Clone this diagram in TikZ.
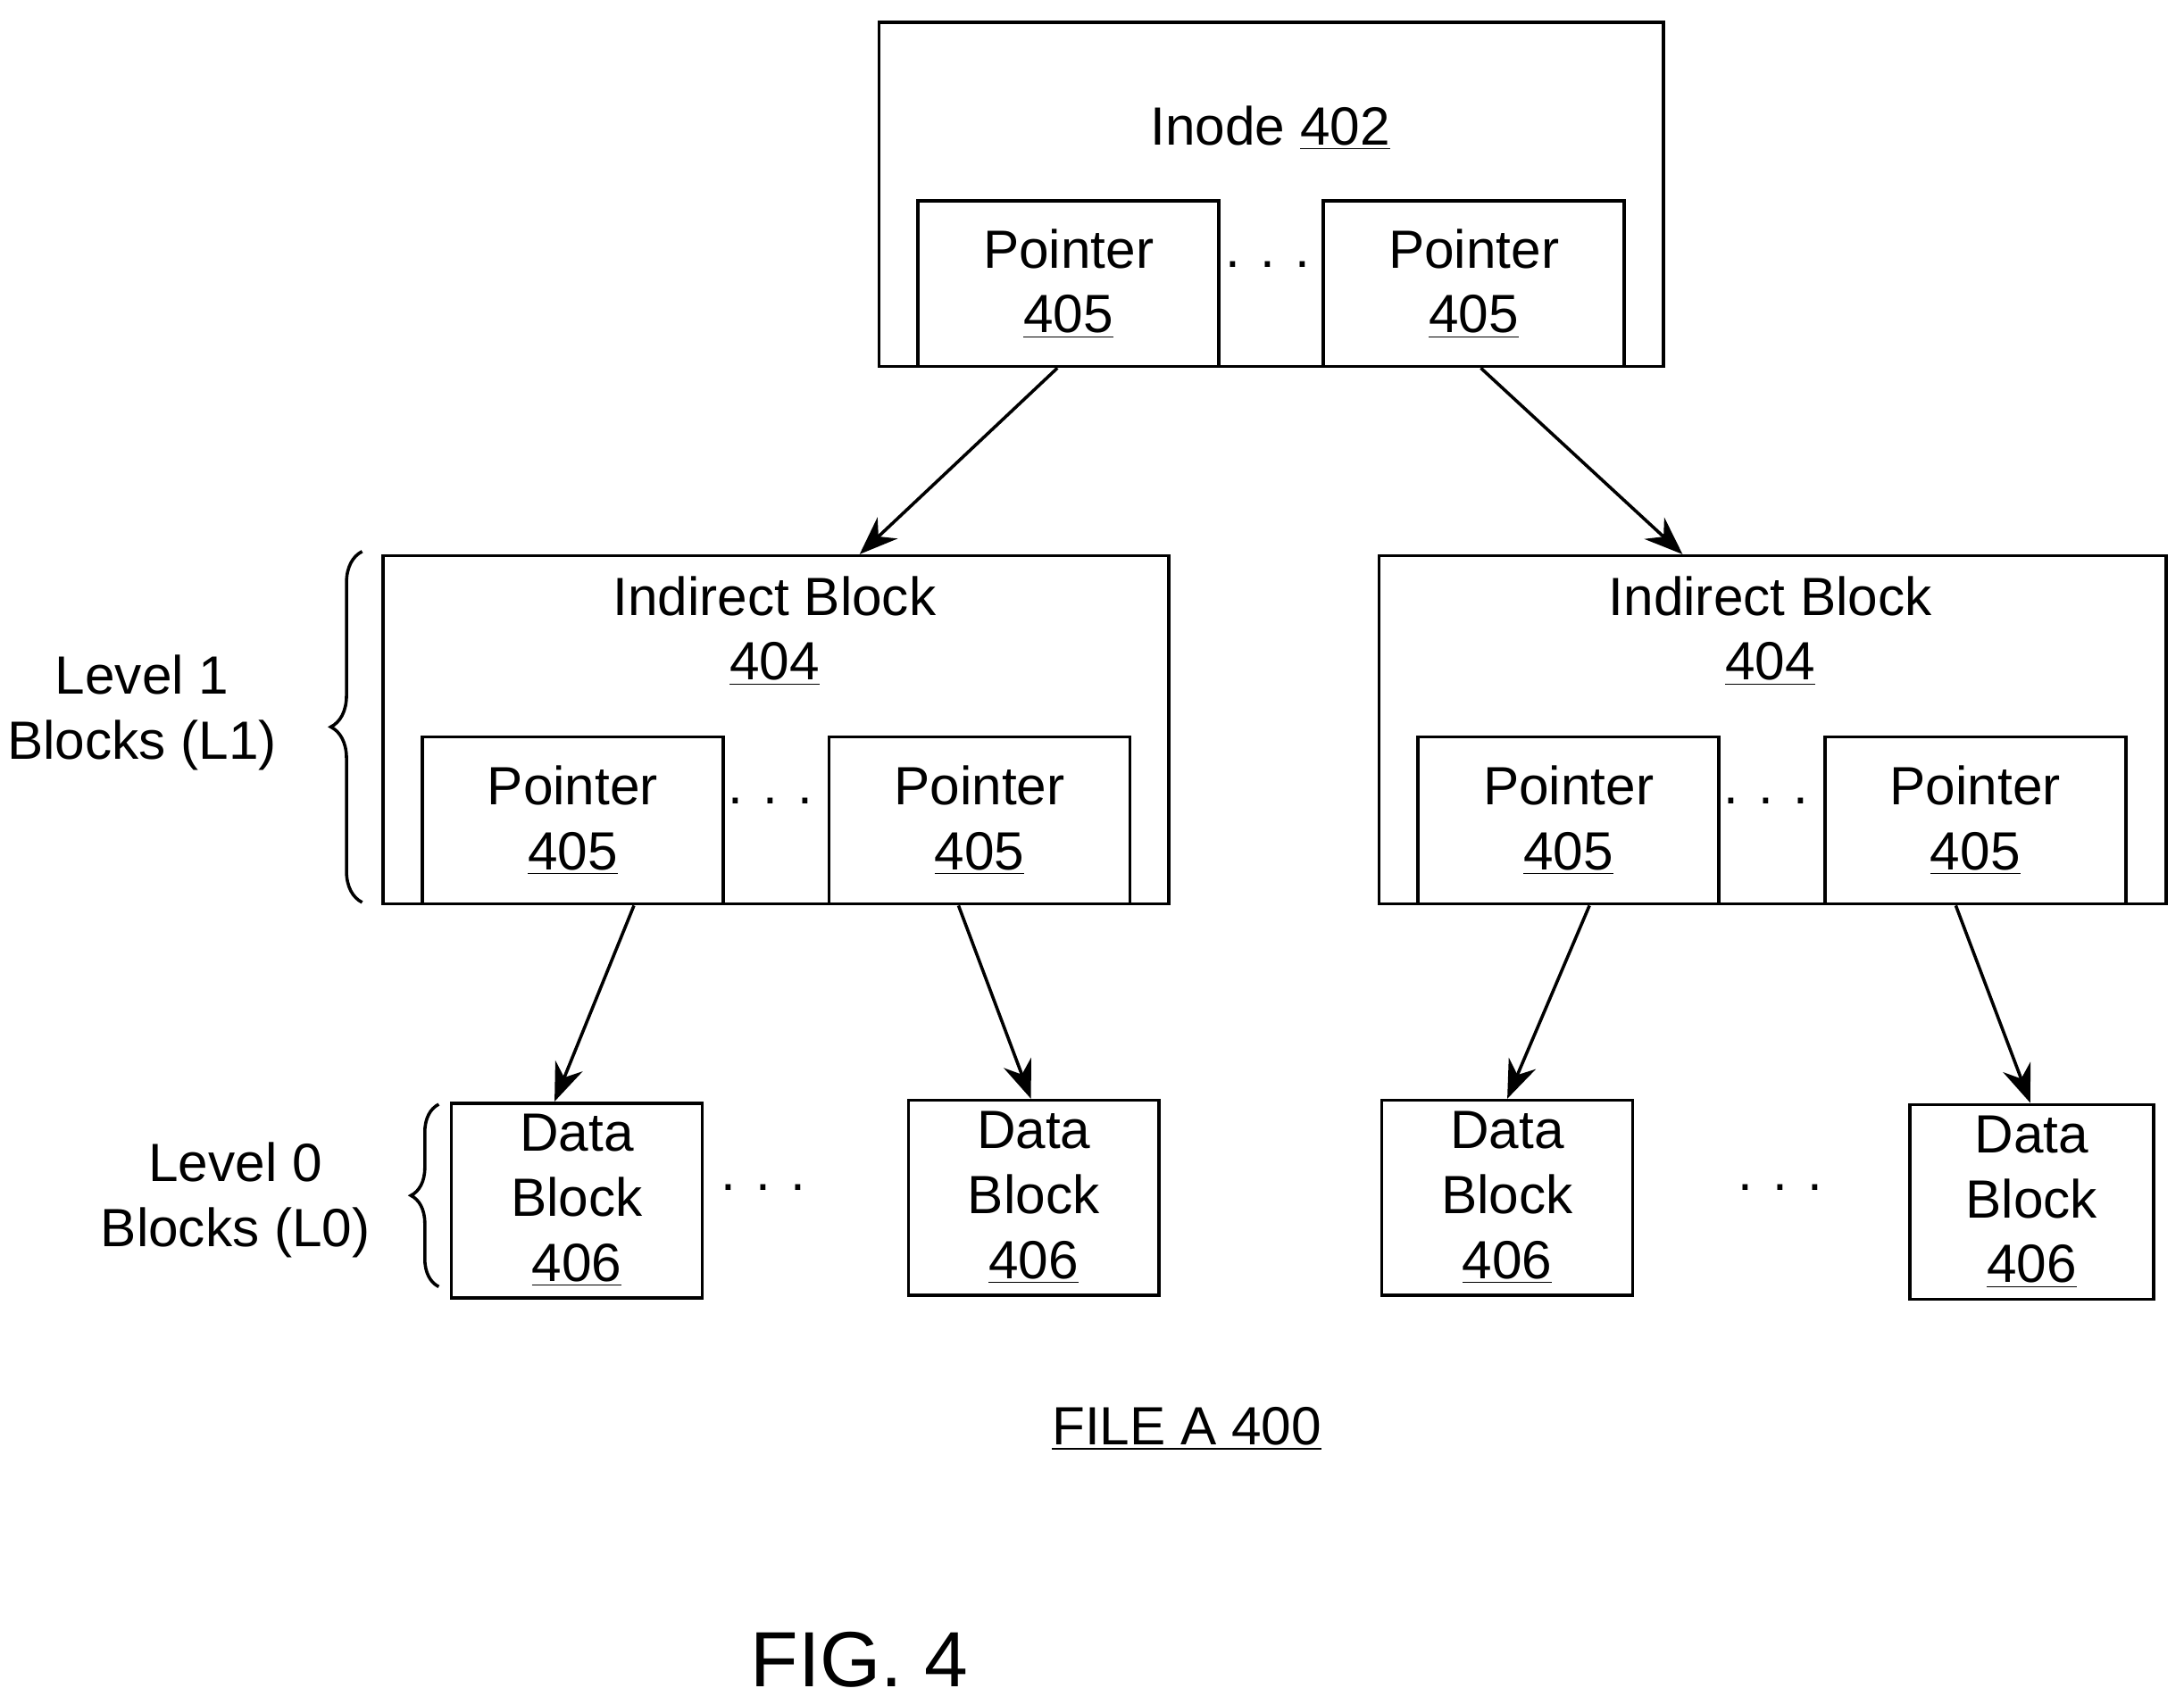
\documentclass[tikz,border=0pt]{standalone}
\usepackage{fontspec}
\setmainfont{Liberation Sans}
\usetikzlibrary{arrows.meta,calc,decorations.pathreplacing}
\begin{document}
\begin{tikzpicture}[x=0.02cm,y=-0.02cm,
  box/.style={draw,line width=1.3pt,inner sep=0pt,anchor=north west},
  txt/.style={font=\fontsize{22}{26.5}\selectfont,align=center,inner sep=0pt},
  arr/.style={line width=1.3pt,-{Stealth[length=0.55cm,width=0.42cm]}},
  br/.style={line width=1.3pt,decorate,decoration={brace,amplitude=0.45cm}}]
\useasboundingbox (0,0) rectangle (1568,1224);
\newcommand{\bx}[5]{\node[box,minimum width=#4*0.02cm,minimum height=#5*0.02cm] (#1) at (#2,#3) {};}
% inode
\bx{inode}{630}{15}{563}{247}
\node[txt] (tinode) at (912,92) {Inode \underline{402}};
\bx{ip1}{658}{143}{216}{119}
\bx{ip2}{949}{143}{216}{119}
\node[txt] (tip1) at (ip1.center) {Pointer\\\underline{405}};
\node[txt] (tip2) at (ip2.center) {Pointer\\\underline{405}};
\node[txt] (d0) at (910,190) {. . .};
% indirect blocks
\bx{ibl}{274}{398}{564}{250}
\bx{ibr}{989}{398}{565}{250}
\node[txt] (tibl) at (556,453) {Indirect Block\\\underline{404}};
\node[txt] (tibr) at (1271,453) {Indirect Block\\\underline{404}};
\bx{lp1}{302}{528}{216}{120}
\bx{lp2}{594}{528}{216}{120}
\bx{rp1}{1017}{528}{216}{120}
\bx{rp2}{1309}{528}{216}{120}
\foreach \n in {lp1,lp2,rp1,rp2}{\node[txt] (t\n) at (\n.center) {Pointer\\\underline{405}};}
\node[txt] (d1) at (553,575) {. . .};
\node[txt] (d2) at (1268,575) {. . .};
% data blocks
\bx{db1}{323}{791}{180}{140}
\bx{db2}{651}{789}{180}{140}
\bx{db3}{991}{789}{180}{140}
\bx{db4}{1370}{792}{175}{140}
\foreach \n in {db1,db2,db3,db4}{\node[txt] (t\n) at (\n.center) {Data\\Block\\\underline{406}};}
\node[txt] (d3) at (548,853) {. . .};
\node[txt] (d4) at (1278,853) {. . .};
% arrows
\coordinate (a1) at ($(ibl.north west)!0.606!(ibl.north east)$);
\coordinate (a2) at ($(ibr.north west)!0.386!(ibr.north east)$);
\draw[arr] ($(ip1.south)+(-8,0)$) -- (a1);
\draw[arr] ($(ip2.south)+(5,0)$) -- (a2);
\draw[arr] ($(lp1.south)+(44,0)$) -- ($(db1.north)+(-16,0)$);
\draw[arr] ($(lp2.south)+(-15,0)$) -- ($(db2.north)+(-2,0)$);
\draw[arr] ($(rp1.south)+(15,0)$) -- ($(db3.north)+(0,0)$);
\draw[arr] ($(rp2.south)+(-14,0)$) -- ($(db4.north)+(-1,0)$);
% braces
\coordinate (b1a) at (260,648); \coordinate (b1b) at (260,396);
\draw[br] (b1a) -- (b1b);
\node[txt] (l1) at (102,512) {Level 1\\Blocks (L1)};
\coordinate (b2a) at (315,924); \coordinate (b2b) at (315,793);
\draw[br,decoration={brace,amplitude=0.4cm}] (b2a) -- (b2b);
\node[txt] (l0) at (169,862) {Level 0\\Blocks (L0)};
% captions
\node[txt] (cap) at (852,1026) {\underline{FILE A 400}};
\node[txt,font=\fontsize{32}{38}\selectfont] (fig) at (617,1192) {FIG. 4};
\end{tikzpicture}
\end{document}
